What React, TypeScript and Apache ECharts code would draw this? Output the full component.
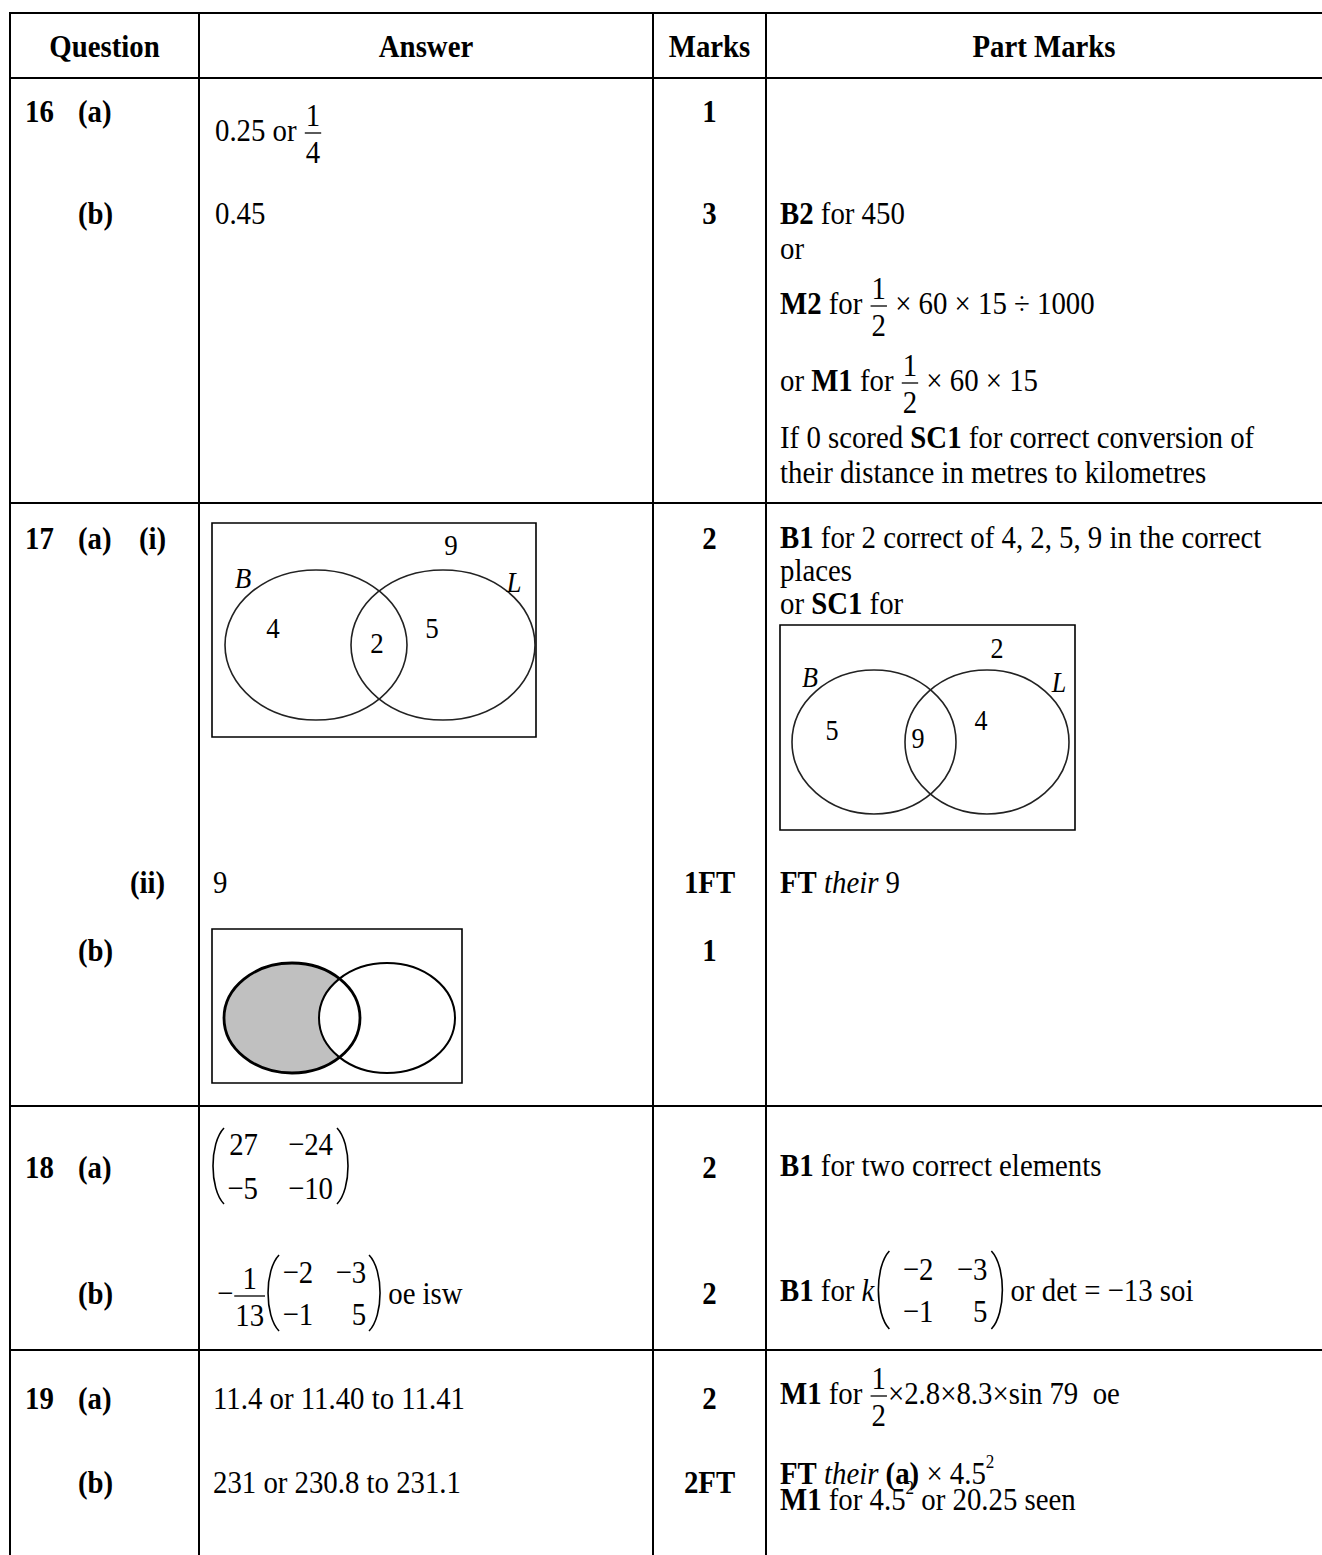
import React, { useEffect, useRef } from "react";
import * as echarts from "echarts";

// ---------- data ----------
const HEADERS = ["Question", "Answer", "Marks", "Part Marks"];
const QUESTION_NUMBERS = ["16", "17", "18", "19"];
const MARKS = ["1", "3", "2", "1FT", "1", "2", "2", "2", "2FT"];
const PART_LABELS = ["(a)", "(b)", "(a)", "(i)", "(ii)", "(b)", "(a)", "(b)", "(a)", "(b)"];
const ANSWER_16A = ["0.25 or ", "1", "4"];
const ANSWER_16B = "0.45";
const ANSWER_17AII = "9";
const ANSWERS_19 = ["11.4 or 11.40 to 11.41", "231 or 230.8 to 231.1"];
// Venn region values: [B only, B∩L, L only, outside]
const VENN_I_VALUES = ["4", "2", "5", "9"];
const VENN_SC1_VALUES = ["5", "9", "4", "2"];
const VENN_SET_NAMES = ["B", "L"];
const MATRIX_18A = [["27", "−24"], ["−5", "−10"]];
const MATRIX_18B = [["−2", "−3"], ["−1", "5"]];
const FRACTION_HALF = ["1", "2"];
const FRACTION_18B = ["1", "13"];

// ---------- layout / style ----------
const FONT_FAMILY = '"Liberation Serif","Times New Roman",Times,serif';
const SX = 0.9;
const FS = 32;
const COLS = [10, 199, 653, 766];
const RIGHT = 1322;
const ROWS = [13, 78, 503, 1106, 1350];
const BOTTOM = 1555;

let measureCtx: CanvasRenderingContext2D | null = null;
function fontStr(size: number, bold?: boolean, italic?: boolean) {
  return `${italic ? "italic " : ""}${bold ? "bold " : ""}${size}px ${FONT_FAMILY}`;
}
function measure(t: string, size = FS, bold = false, italic = false) {
  if (!measureCtx) measureCtx = document.createElement("canvas").getContext("2d");
  measureCtx!.font = fontStr(size, bold, italic);
  return measureCtx!.measureText(t).width * SX;
}

function T(x: number, y: number, text: string, o: any = {}) {
  const size = o.size || FS;
  const align = o.align || "left";
  return {
    type: "text",
    x,
    y,
    scaleX: SX,
    silent: true,
    style: {
      text,
      font: fontStr(size, o.b, o.i),
      fill: "#000",
      align,
      verticalAlign: "middle",
      textAlign: align,
      textVerticalAlign: "middle",
    },
  };
}
function Ln(x1: number, y1: number, x2: number, y2: number, w = 2, color = "#000") {
  return { type: "line", silent: true, shape: { x1, y1, x2, y2 }, style: { stroke: color, lineWidth: w } };
}
// tall bracket drawn as a cubic curve
function Paren(xe: number, xm: number, y: number, h: number, w = 1.6) {
  const xc = (xm - 0.25 * xe) / 0.75;
  return {
    type: "bezierCurve",
    silent: true,
    shape: { x1: xe, y1: y - h, x2: xe, y2: y + h, cpx1: xc, cpy1: y - 0.6 * h, cpx2: xc, cpy2: y + 0.6 * h },
    style: { stroke: "#000", lineWidth: w, fill: "none" },
  };
}

function matrix(els: any[], cx: number, y: number, m: string[][], o: any) {
  els.push(Paren(cx + 12, cx + 1, y, o.h));
  els.push(Paren(cx + o.w - 12, cx + o.w - 1, y, o.h));
  m.forEach((row, r) =>
    row.forEach((v, c) => els.push(T(cx + (c ? o.c2 : o.c1), y + (r ? o.dy : -o.dy), v, { align: "right" })))
  );
}

function run(els: any[], x: number, y: number, parts: any[]) {
  let cx = x;
  for (const p of parts) {
    if (typeof p === "string") {
      els.push(T(cx, y, p));
      cx += measure(p);
    } else if (p.gap !== undefined) {
      cx += p.gap;
    } else if (p.frac) {
      const [n, d] = p.frac;
      const w = Math.max(measure(n), measure(d)) + 4;
      const by = y + 3;
      els.push(T(cx + w / 2, by - 18, n, { align: "center" }));
      els.push(T(cx + w / 2, by + 19, d, { align: "center" }));
      els.push(Ln(cx + 1, by, cx + w - 1, by, 1.3));
      cx += w;
    } else if (p.mat) {
      matrix(els, cx, y, p.mat, p);
      cx += p.w;
    } else {
      const size = p.s || FS;
      els.push(T(cx, y + (p.dy || 0), p.t, { b: p.b, i: p.i, size }));
      cx += measure(p.t, size, p.b, p.i);
    }
  }
  return cx;
}

function venn(els: any[], box: number[], e1: number[], e2: number[], labels: any[], lw = 1.6) {
  els.push({
    type: "rect",
    silent: true,
    shape: { x: box[0], y: box[1], width: box[2], height: box[3] },
    style: { fill: "#fff", stroke: "#000", lineWidth: 1.6 },
  });
  [e1, e2].forEach((e) =>
    els.push({
      type: "ellipse",
      silent: true,
      shape: { cx: e[0], cy: e[1], rx: e[2], ry: e[3] },
      style: { fill: "none", stroke: "#222", lineWidth: lw },
    })
  );
  labels.forEach((l) => els.push(T(l.x, l.y, l.t, { i: l.i, size: l.size || 30, align: "center" })));
}

function buildElements() {
  const els: any[] = [];
  // grid
  COLS.forEach((x) => els.push(Ln(x, ROWS[0] - 1, x, BOTTOM)));
  ROWS.forEach((y) => els.push(Ln(COLS[0] - 1, y, RIGHT, y)));

  // header
  const centers = [
    (COLS[0] + COLS[1]) / 2,
    (COLS[1] + COLS[2]) / 2,
    (COLS[2] + COLS[3]) / 2,
    (COLS[3] + RIGHT) / 2,
  ];
  HEADERS.forEach((h, i) => els.push(T(centers[i], 46, h, { b: true, align: "center" })));

  // question numbers
  const qY = [111, 538, 1167, 1398];
  QUESTION_NUMBERS.forEach((q, i) => els.push(T(25, qY[i], q, { b: true })));
  // part labels
  const pPos = [
    [78, 111], [78, 213], [78, 538], [139, 538], [130, 882], [78, 950], [78, 1167], [78, 1293], [78, 1398], [78, 1482],
  ];
  PART_LABELS.forEach((p, i) => els.push(T(pPos[i][0], pPos[i][1], p, { b: true })));

  // marks
  const mY = [111, 213, 538, 882, 950, 1167, 1293, 1398, 1482];
  MARKS.forEach((m, i) => els.push(T(centers[2], mY[i], m, { b: true, align: "center" })));

  // ---- answers ----
  run(els, 215, 130, [ANSWER_16A[0], { frac: [ANSWER_16A[1], ANSWER_16A[2]] }]);
  els.push(T(215, 213, ANSWER_16B));

  // 17 (a)(i) venn
  venn(
    els,
    [212, 523, 324, 214],
    [316, 645, 91, 75],
    [443, 645, 92, 75],
    [
      { t: VENN_SET_NAMES[0], x: 243, y: 578, i: true },
      { t: VENN_SET_NAMES[1], x: 514, y: 582, i: true },
      { t: VENN_I_VALUES[0], x: 273, y: 628 },
      { t: VENN_I_VALUES[1], x: 377, y: 643 },
      { t: VENN_I_VALUES[2], x: 432, y: 628 },
      { t: VENN_I_VALUES[3], x: 451, y: 545 },
    ]
  );
  els.push(T(213, 882, ANSWER_17AII));

  // 17 (b) shaded venn
  els.push({
    type: "rect",
    silent: true,
    shape: { x: 212, y: 929, width: 250, height: 154 },
    style: { fill: "#fff", stroke: "#000", lineWidth: 1.6 },
  });
  els.push({
    type: "ellipse",
    silent: true,
    shape: { cx: 292, cy: 1018, rx: 68, ry: 55 },
    style: { fill: "#c0c0c0", stroke: "none" },
  });
  els.push({
    type: "ellipse",
    silent: true,
    shape: { cx: 387, cy: 1018, rx: 68, ry: 55 },
    style: { fill: "#fff", stroke: "#000", lineWidth: 2 },
  });
  els.push({
    type: "ellipse",
    silent: true,
    shape: { cx: 292, cy: 1018, rx: 68, ry: 55 },
    style: { fill: "none", stroke: "#000", lineWidth: 2.8 },
  });

  // 18 (a)
  matrix(els, 212, 1166, MATRIX_18A, { w: 137, c1: 46, c2: 121, dy: 22, h: 38 });
  // 18 (b)
  run(els, 217, 1293, [
    "−",
    { frac: FRACTION_18B },
    { gap: 1 },
    { mat: MATRIX_18B, w: 114, c1: 46, c2: 99, dy: 21, h: 38 },
    " oe isw",
  ]);

  // 19
  els.push(T(213, 1398, ANSWERS_19[0]));
  els.push(T(213, 1482, ANSWERS_19[1]));

  // ---- part marks ----
  const PX = 780;
  run(els, PX, 213, [{ t: "B2", b: true }, " for 450"]);
  els.push(T(PX, 248, "or"));
  run(els, PX, 303, [{ t: "M2", b: true }, " for ", { frac: FRACTION_HALF }, " × 60 × 15 ÷ 1000"]);
  run(els, PX, 380, ["or ", { t: "M1", b: true }, " for ", { frac: FRACTION_HALF }, " × 60 × 15"]);
  run(els, PX, 437, ["If 0 scored ", { t: "SC1", b: true }, " for correct conversion of"]);
  els.push(T(PX, 472, "their distance in metres to kilometres"));

  run(els, PX, 537, [{ t: "B1", b: true }, " for 2 correct of 4, 2, 5, 9 in the correct"]);
  els.push(T(PX, 570, "places"));
  run(els, PX, 603, ["or ", { t: "SC1", b: true }, " for"]);
  venn(
    els,
    [780, 625, 295, 205],
    [874, 742, 82, 72],
    [987, 742, 82, 72],
    [
      { t: VENN_SET_NAMES[0], x: 810, y: 677, i: true, size: 29 },
      { t: VENN_SET_NAMES[1], x: 1059, y: 682, i: true, size: 29 },
      { t: VENN_SC1_VALUES[0], x: 832, y: 730, size: 29 },
      { t: VENN_SC1_VALUES[1], x: 918, y: 738, size: 29 },
      { t: VENN_SC1_VALUES[2], x: 981, y: 720, size: 29 },
      { t: VENN_SC1_VALUES[3], x: 997, y: 648, size: 29 },
    ]
  );

  run(els, PX, 882, [{ t: "FT", b: true }, " ", { t: "their", i: true }, " 9"]);

  run(els, PX, 1165, [{ t: "B1", b: true }, " for two correct elements"]);
  run(els, PX, 1290, [
    { t: "B1", b: true },
    " for ",
    { t: "k", i: true },
    { gap: 3 },
    { mat: MATRIX_18B, w: 126, c1: 56, c2: 110, dy: 21, h: 39 },
    " or det = −13 soi",
  ]);

  run(els, PX, 1393, [{ t: "M1", b: true }, " for ", { frac: FRACTION_HALF }, "×2.8×8.3×sin 79  oe"]);
  run(els, PX, 1473, [
    { t: "FT", b: true },
    " ",
    { t: "their", i: true },
    " ",
    { t: "(a)", b: true },
    " × 4.5",
    { t: "2", s: 19, dy: -11 },
  ]);
  run(els, PX, 1499, [{ t: "M1", b: true }, " for 4.5", { t: "2", s: 19, dy: -11 }, " or 20.25 seen"]);

  return els;
}

export default function App() {
  const ref = useRef<HTMLDivElement>(null);
  useEffect(() => {
    document.body.style.margin = "0";
    const chart = echarts.init(ref.current!, undefined, { renderer: "svg" });
    chart.setOption({
      animation: false,
      backgroundColor: "#fff",
      graphic: { elements: buildElements() },
    });
    return () => chart.dispose();
  }, []);
  return <div ref={ref} style={{ width: 1322, height: 1555, background: "#fff" }} />;
}
